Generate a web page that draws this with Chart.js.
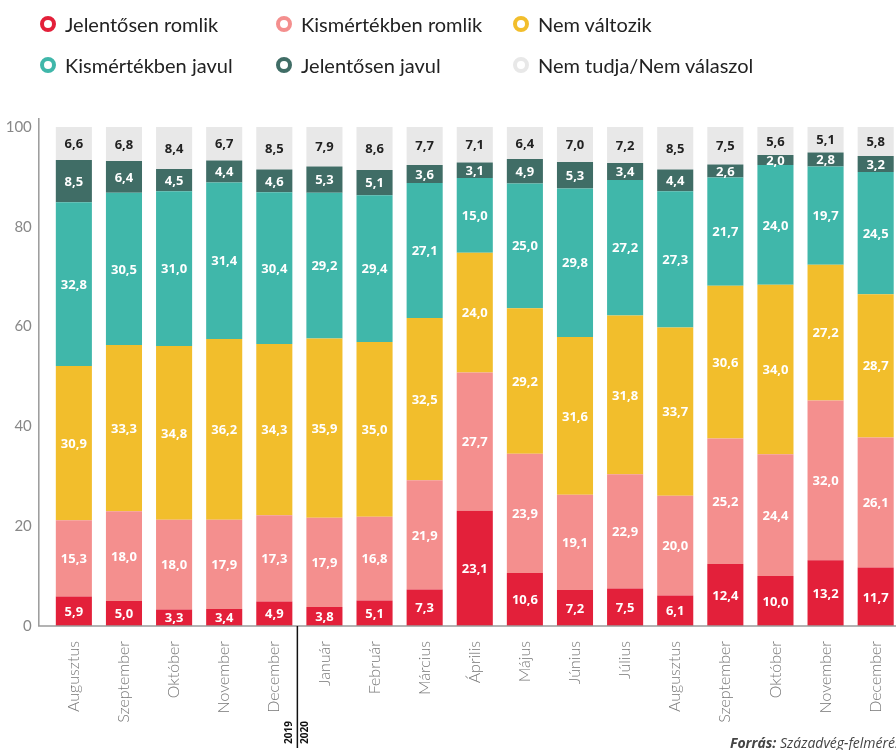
<!DOCTYPE html>
<html>
<head>
<meta charset="utf-8">
<script src="https://cdn.jsdelivr.net/npm/chart.js@4"></script>
<style>
  html, body { margin: 0; padding: 0; background: #fff; overflow: hidden; }
  body { width: 896px; height: 750px; position: relative; }
  #wrap { position: absolute; left: 0; top: 0; width: 910px; height: 750px; }
  #legend { position: absolute; left: 0; top: 0; width: 896px; font-family: Lato, "Open Sans", sans-serif; font-size: 20px; color: #222; }
  .item { position: absolute; display: flex; align-items: center; white-space: nowrap; }
  .ring { width: 8px; height: 8px; border-radius: 50%; border: 4px solid; margin-right: 9px; }
  #source { position: absolute; left: 730px; top: 733px; font-family: "Open Sans", sans-serif; font-size: 14px; font-style: italic; color: #444; white-space: nowrap; }
</style>
</head>
<body>
<div id="wrap"><canvas id="chart"></canvas></div>
<div id="legend"></div>
<div id="source"><b>Forrás:</b> Századvég-felmérés</div>
<script>
const categories = ['Augusztus', 'Szeptember', 'Október', 'November', 'December',
  'Január', 'Február', 'Március', 'Április', 'Május', 'Június', 'Július',
  'Augusztus', 'Szeptember', 'Október', 'November', 'December'];
const yearLabels = ['2019', '2020'];

const jelentosenRomlik = [5.9, 5.0, 3.3, 3.4, 4.9, 3.8, 5.1, 7.3, 23.1, 10.6, 7.2, 7.5, 6.1, 12.4, 10.0, 13.2, 11.7];
const kismertekbenRomlik = [15.3, 18.0, 18.0, 17.9, 17.3, 17.9, 16.8, 21.9, 27.7, 23.9, 19.1, 22.9, 20.0, 25.2, 24.4, 32.0, 26.1];
const nemValtozik = [30.9, 33.3, 34.8, 36.2, 34.3, 35.9, 35.0, 32.5, 24.0, 29.2, 31.6, 31.8, 33.7, 30.6, 34.0, 27.2, 28.7];
const kismertekbenJavul = [32.8, 30.5, 31.0, 31.4, 30.4, 29.2, 29.4, 27.1, 15.0, 25.0, 29.8, 27.2, 27.3, 21.7, 24.0, 19.7, 24.5];
const jelentosenJavul = [8.5, 6.4, 4.5, 4.4, 4.6, 5.3, 5.1, 3.6, 3.1, 4.9, 5.3, 3.4, 4.4, 2.6, 2.0, 2.8, 3.2];
const nemTudja = [6.6, 6.8, 8.4, 6.7, 8.5, 7.9, 8.6, 7.7, 7.1, 6.4, 7.0, 7.2, 8.5, 7.5, 5.6, 5.1, 5.8];

const yTicks = [0, 20, 40, 60, 80, 100];

const series = [
  { label: 'Jelentősen romlik', data: jelentosenRomlik, color: '#e3203a', text: '#fff' },
  { label: 'Kismértékben romlik', data: kismertekbenRomlik, color: '#f48f8e', text: '#fff' },
  { label: 'Nem változik', data: nemValtozik, color: '#f2be2c', text: '#fff' },
  { label: 'Kismértékben javul', data: kismertekbenJavul, color: '#40b7aa', text: '#fff' },
  { label: 'Jelentősen javul', data: jelentosenJavul, color: '#406d66', text: '#fff' },
  { label: 'Nem tudja/Nem válaszol', data: nemTudja, color: '#e8e8e8', text: '#222' }
];

// legend in two rows, three columns
const legendEl = document.getElementById('legend');
const colX = [40, 276, 513];
const rowY = [12, 53];
series.forEach((s, i) => {
  const div = document.createElement('div');
  div.className = 'item';
  div.style.left = colX[i % 3] + 'px';
  div.style.top = rowY[Math.floor(i / 3)] + 'px';
  div.innerHTML = `<span class="ring" style="border-color:${s.color}"></span>${s.label}`;
  legendEl.appendChild(div);
});

const fmt = v => v.toFixed(1).replace('.', ',');

const valueLabels = {
  id: 'valueLabels',
  afterDatasetsDraw(chart) {
    const ctx = chart.ctx;
    ctx.save();
    ctx.font = 'bold 13px "Open Sans", sans-serif';
    ctx.textAlign = 'center';
    ctx.textBaseline = 'middle';
    chart.data.datasets.forEach((ds, di) => {
      const meta = chart.getDatasetMeta(di);
      meta.data.forEach((el, i) => {
        ctx.fillStyle = series[di].text;
        ctx.fillText(fmt(ds.data[i]), el.x, (el.y + el.base) / 2 + 1);
      });
    });
    ctx.restore();
  }
};

const axisLines = {
  id: 'axisLines',
  afterDraw(chart) {
    const { ctx, chartArea } = chart;
    const x0 = chartArea.left - 10;
    ctx.save();
    ctx.strokeStyle = '#9a9a9a';
    ctx.lineWidth = 1.5;
    ctx.beginPath();
    ctx.moveTo(x0, chartArea.top - 9);
    ctx.lineTo(x0, chartArea.bottom);
    ctx.lineTo(chart.width, chartArea.bottom);
    ctx.stroke();

    // year divider between December and Január
    const xs = chart.scales.x;
    const xd = (xs.getPixelForTick(4) + xs.getPixelForTick(5)) / 2 - 2;
    ctx.strokeStyle = '#111';
    ctx.lineWidth = 1.5;
    ctx.beginPath();
    ctx.moveTo(xd, chartArea.bottom);
    ctx.lineTo(xd, chart.height - 2);
    ctx.stroke();

    ctx.fillStyle = '#111';
    ctx.font = 'bold 10px "Open Sans", sans-serif';
    ctx.textBaseline = 'middle';
    ctx.textAlign = 'left';
    [[yearLabels[0], xd - 8], [yearLabels[1], xd + 8]].forEach(([t, x]) => {
      ctx.save();
      ctx.translate(x, chart.height - 6);
      ctx.rotate(-Math.PI / 2);
      ctx.fillText(t, 0, 0);
      ctx.restore();
    });
    ctx.restore();
  }
};

new Chart(document.getElementById('chart'), {
  type: 'bar',
  data: {
    labels: categories,
    datasets: series.map(s => ({
      label: s.label,
      data: s.data,
      backgroundColor: s.color,
      borderWidth: 0,
      barPercentage: 0.72,
      categoryPercentage: 1.0
    }))
  },
  options: {
    responsive: true,
    maintainAspectRatio: false,
    animation: false,
    layout: { padding: { top: 127, right: 4, left: 0, bottom: 0 } },
    plugins: {
      legend: { display: false },
      tooltip: { enabled: false }
    },
    scales: {
      x: {
        stacked: true,
        grid: { display: false, drawTicks: false },
        border: { display: false },
        afterFit(scale) { scale.height = 124; },
        ticks: {
          color: '#777',
          font: { family: 'Lato', size: 16, weight: 300 },
          minRotation: 90,
          maxRotation: 90,
          padding: 15,
          autoSkip: false
        }
      },
      y: {
        stacked: true,
        min: 0,
        max: 100,
        afterFit(scale) { scale.width = 48.8; },
        afterBuildTicks(scale) { scale.ticks = yTicks.map(v => ({ value: v })); },
        grid: { display: false, drawTicks: false },
        border: { display: false },
        ticks: {
          color: '#888',
          font: { family: 'Lato', size: 15 },
          padding: 17
        }
      }
    }
  },
  plugins: [valueLabels, axisLines]
});
</script>
</body>
</html>
